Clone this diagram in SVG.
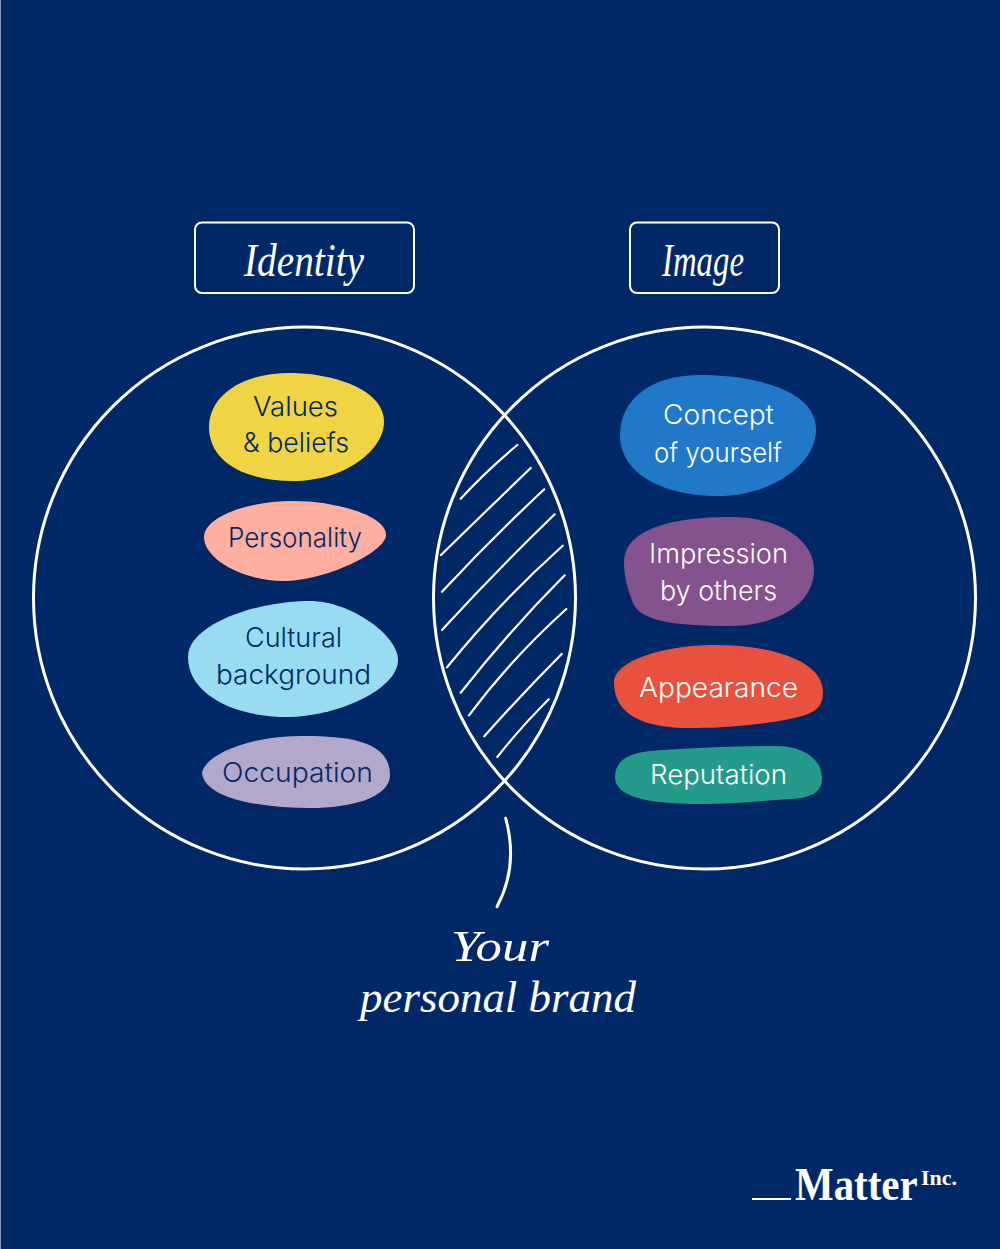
<svg xmlns="http://www.w3.org/2000/svg" width="1000" height="1249" viewBox="0 0 1000 1249">
<style>
.ln{fill:none;stroke:#fff;stroke-linecap:round}
.c{stroke-width:3}
.h{stroke-width:2.2}
.box{fill:none;stroke:#fff;stroke-width:2}
.t{font-family:"Inter","Open Sans","Liberation Sans",sans-serif;font-weight:300;font-size:27px}
.d{fill:#002866}
.w{fill:#fff}
.s{font-family:"Liberation Serif",serif;font-style:italic;fill:#fff}
</style>
<rect width="1000" height="1249" fill="#002866"/>
<rect width="1" height="1249" fill="#7f94b3"/>
<g id="connectors">
<circle class="ln c" cx="304.500" cy="598" r="271"/>
<circle class="ln c" cx="704.500" cy="598" r="271"/>
<path class="ln h" d="M460.700,498.700Q485,472 517.300,445"/>
<path class="ln h" d="M441,555Q485,512 530.700,468"/>
<path class="ln h" d="M442,591.700Q492,538 544.300,489.300"/>
<path class="ln h" d="M442,630Q497,570 554.700,514.300"/>
<path class="ln h" d="M447,667.300Q500,602 562.700,545.700"/>
<path class="ln h" d="M460.700,692.700Q510,630 564.700,575.300"/>
<path class="ln h" d="M469,715.300Q510,660 566.300,609"/>
<path class="ln h" d="M484.300,736.300Q522,694 561.700,654"/>
<path class="ln h" d="M497.300,757Q520,728 548.700,699.300"/>
<path class="ln" stroke-width="3" d="M505.700,818.300C513,845 514,875 497,906.700"/>
</g>
<g id="identity-label"><rect class="box" x="195" y="222.500" width="219" height="70.500" rx="7"/><text class="s" x="244" y="276" font-size="46" textLength="120" lengthAdjust="spacingAndGlyphs">Identity</text></g>
<g id="image-label"><rect class="box" x="630" y="222.500" width="149" height="70.500" rx="7"/><text class="s" x="662" y="276" font-size="46" textLength="82" lengthAdjust="spacingAndGlyphs">Image</text></g>
<g id="values"><path fill="#f0d443" d="M209,427C209,397 240,373 290,373C330,373 384,388 384,422C384,450 345,481 293,481C245,481 209,462 209,427Z"/><text class="t d" x="253" y="416" textLength="85" lengthAdjust="spacingAndGlyphs">Values</text><text class="t d" x="243" y="452" textLength="106" lengthAdjust="spacingAndGlyphs">&amp; beliefs</text></g>
<g id="personality"><path fill="#ffaf9f" d="M204,537C204,518 245,501 293,501C335,501 386,515 386,535C386,552 325,581 283,581C245,581 204,560 204,537Z"/><text class="t d" x="228" y="547" textLength="134" lengthAdjust="spacingAndGlyphs">Personality</text></g>
<g id="cultural"><path fill="#98dcf1" d="M188,657C188,625 255,601 310,601C350,601 398,635 398,660C398,690 335,717 287,717C235,717 188,695 188,657Z"/><text class="t d" x="245" y="647" textLength="97" lengthAdjust="spacingAndGlyphs">Cultural</text><text class="t d" x="216" y="684" textLength="155" lengthAdjust="spacingAndGlyphs">background</text></g>
<g id="occupation"><path fill="#b3a8c9" d="M202,773C204,758 240,737 300,736C340,736 390,738 390,775C390,798 350,808 310,808C265,808 205,800 202,773Z"/><text class="t d" x="222" y="782" textLength="151" lengthAdjust="spacingAndGlyphs">Occupation</text></g>
<g id="concept"><path fill="#1f78c8" d="M620,435C620,400 650,375 700,375C750,375 816,388 816,430C816,465 770,496 718,496C665,496 620,475 620,435Z"/><text class="t w" x="663" y="424" textLength="111" lengthAdjust="spacingAndGlyphs">Concept</text><text class="t w" x="654" y="462" textLength="128" lengthAdjust="spacingAndGlyphs">of yourself</text></g>
<g id="impression"><path fill="#84528c" d="M624,562C624,530 670,517 730,517C780,517 814,540 814,570C814,605 775,626 730,626C670,626 640,620 633,603C628,590 624,578 624,562Z"/><text class="t w" x="649" y="563" textLength="139" lengthAdjust="spacingAndGlyphs">Impression</text><text class="t w" x="660" y="600" textLength="117" lengthAdjust="spacingAndGlyphs">by others</text></g>
<g id="appearance"><path fill="#e8513d" d="M614,683C614,660 665,645 715,645C770,645 823,660 823,692C823,710 812,714 790,719C760,725 725,728 695,728C650,729 614,718 614,683Z"/><text class="t w" x="639" y="697" textLength="159" lengthAdjust="spacingAndGlyphs">Appearance</text></g>
<g id="reputation"><path fill="#249a8a" d="M615,777C615,760 630,753 650,751C690,748 740,746 775,746C805,746 822,760 822,778C822,792 812,798 790,799C760,801 730,804 700,804C660,804 615,800 615,777Z"/><text class="t w" x="650" y="784" textLength="137" lengthAdjust="spacingAndGlyphs">Reputation</text></g>
<g id="brand-label"><text class="s" x="451" y="961" font-size="44" textLength="98" lengthAdjust="spacingAndGlyphs">Your</text><text class="s" x="360" y="1012" font-size="44" textLength="276" lengthAdjust="spacingAndGlyphs">personal brand</text></g>
<g id="logo"><rect x="752" y="1198" width="39" height="2" fill="#fff"/><text transform="translate(795 1200) scale(.89 1)" font-family="Liberation Serif,serif" font-weight="700" font-size="46" fill="#fff">Matter</text><text x="921" y="1185" font-family="Liberation Serif,serif" font-weight="700" font-size="20" fill="#fff" textLength="36" lengthAdjust="spacingAndGlyphs">Inc.</text></g>
</svg>
